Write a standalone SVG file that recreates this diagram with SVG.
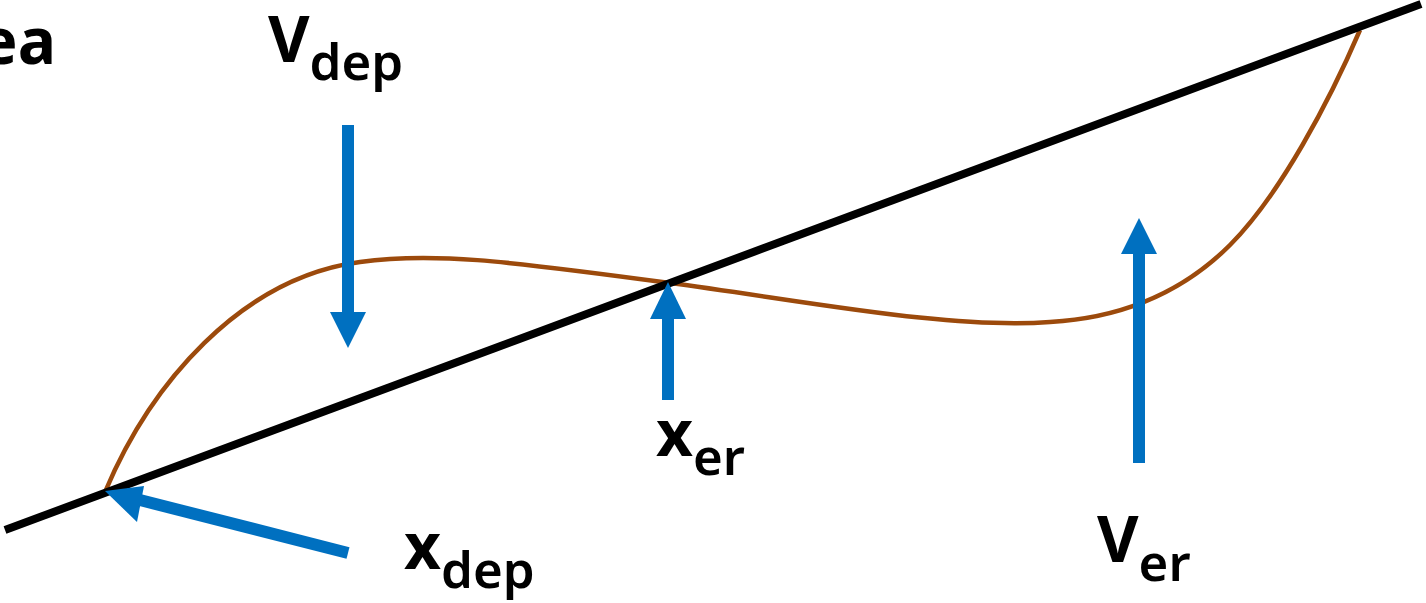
<svg xmlns="http://www.w3.org/2000/svg" width="1426" height="603" viewBox="0 0 1426 603">
  <style>
    .lbl { font-family: "Noto Sans", "Open Sans", "DejaVu Sans", sans-serif; fill: #000; }
    .main { font-size: 64px; font-weight: 700; }
    .sub { font-size: 51px; font-weight: 600; }
    .arrow { stroke: #0070C0; stroke-width: 12; fill: none; }
    .head { fill: #0070C0; }
  </style>
  <rect width="1426" height="603" fill="#ffffff"/>

  <!-- curves -->
  <g id="curves">
    <path id="profile" d="M105,492 C150,385 240,278 360,262 C430,252 500,260 670,283 C800,300 950,330 1050,322 C1120,318 1180,295 1230,245 C1280,195 1330,100 1360,30" fill="none" stroke="#9C4A0C" stroke-width="4.5"/>
    <line id="baseline" x1="5" y1="530" x2="1421" y2="4" stroke="#000" stroke-width="8"/>
  </g>

  <!-- connectors -->
  <g id="connectors">
    <line class="arrow" x1="348" y1="125" x2="348" y2="314"/>
    <polygon class="head" points="330,312 366,312 348,348"/>
    <line class="arrow" x1="668" y1="400" x2="668" y2="317"/>
    <polygon class="head" points="650,319 686,319 668,282"/>
    <line class="arrow" x1="1139" y1="463" x2="1139" y2="252"/>
    <polygon class="head" points="1121,254 1157,254 1139,218"/>
    <line class="arrow" x1="348" y1="553" x2="136" y2="499"/>
    <polygon class="head" points="105,491 144,486 137,522"/>
  </g>

  <!-- labels -->
  <g id="label-ea">
    <text class="lbl main" x="56" y="64" text-anchor="end">ea</text>
  </g>
  <g id="label-vdep">
    <text class="lbl" x="268" y="62"><tspan class="main">V</tspan><tspan class="sub" dy="18">dep</tspan></text>
  </g>
  <g id="label-xdep">
    <text class="lbl" x="404" y="569"><tspan class="main">x</tspan><tspan class="sub" dy="19">dep</tspan></text>
  </g>
  <g id="label-xer">
    <text class="lbl" x="656" y="456"><tspan class="main">x</tspan><tspan class="sub" dy="19">er</tspan></text>
  </g>
  <g id="label-ver">
    <text class="lbl" x="1097" y="562"><tspan class="main">V</tspan><tspan class="sub" dy="19">er</tspan></text>
  </g>
</svg>
